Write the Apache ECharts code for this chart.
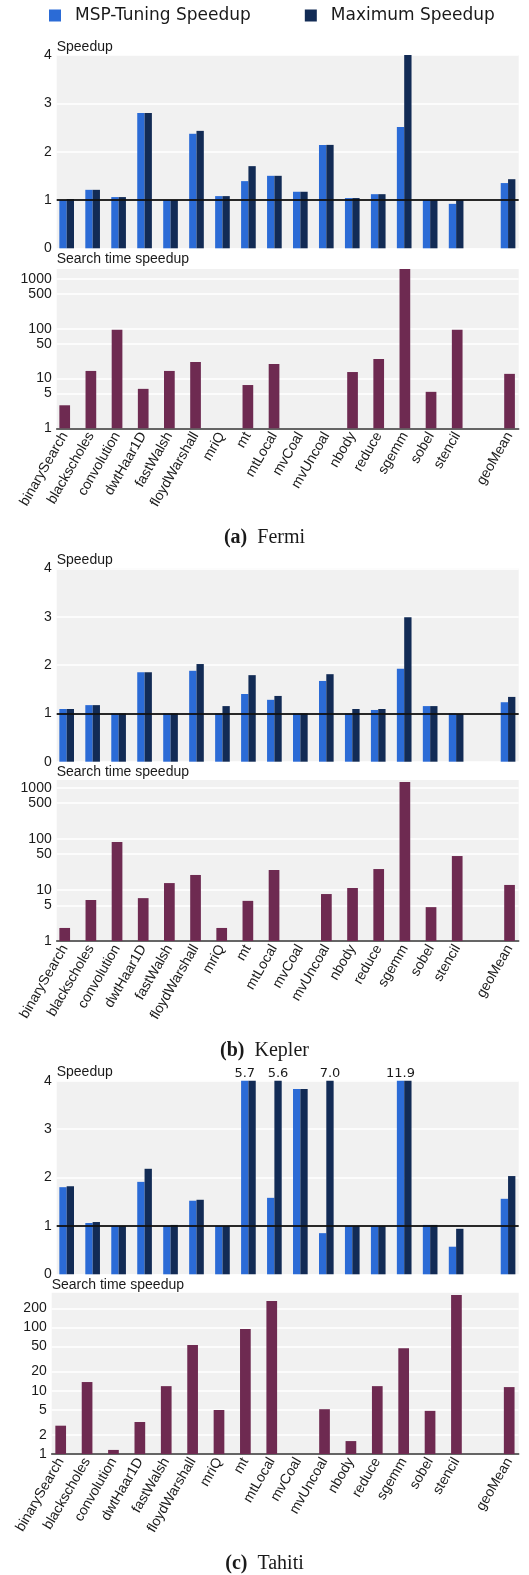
<!DOCTYPE html>
<html><head><meta charset="utf-8">
<script src="https://cdn.jsdelivr.net/npm/echarts@6/dist/echarts.min.js"></script>
<style>html,body{margin:0;padding:0;background:#fff}#c{width:529px;height:1575px}</style>
</head><body><div id="c"></div>
<script>
// ---------- data ----------
const categories = ['binarySearch','blackscholes','convolution','dwtHaar1D','fastWalsh','floydWarshall','mriQ','mt','mtLocal','mvCoal','mvUncoal','nbody','reduce','sgemm','sobel','stencil','','geoMean'];

const fermiMsp    = [1.00,1.21,1.06,2.80,1.00,2.37,1.08,1.39,1.50,1.17,2.14,1.04,1.12,2.51,1.00,0.92,null,1.35];
const fermiMax    = [1.02,1.21,1.06,2.80,1.00,2.43,1.08,1.70,1.50,1.17,2.14,1.04,1.12,4.00,1.00,1.00,null,1.43];
const fermiSearch = [2.9,14.2,95,6.2,14.2,21.5,1,7.4,19.6,1,1,13.5,24.7,1600,5.4,95,null,12.4];

const keplerMsp    = [1.09,1.17,1.00,1.85,1.00,1.88,1.00,1.40,1.28,1.00,1.67,1.00,1.07,1.92,1.15,1.00,null,1.23];
const keplerMax    = [1.09,1.17,1.00,1.85,1.00,2.02,1.15,1.79,1.36,1.00,1.81,1.09,1.09,2.99,1.15,0.99,null,1.34];
const keplerSearch = [1.8,6.35,86.5,6.9,13.6,19.6,1.8,6.1,24.5,1,8.3,10.9,25.6,1290,4.6,46,null,12.5];

const tahitiMsp    = [1.80,1.06,1.00,1.91,1.00,1.52,1.00,5.7,1.58,3.83,0.85,1.00,1.00,11.9,1.02,0.57,null,1.56];
const tahitiMax    = [1.82,1.08,1.00,2.18,1.02,1.54,1.00,5.7,5.6,3.83,7.0,1.00,1.00,11.9,1.02,0.94,null,2.03];
const tahitiSearch = [2.8,13.7,1.16,3.2,11.8,52.6,4.95,94,260,1,5.1,1.6,11.8,47,4.8,324,null,11.4];

const speedupMax = 4;
const searchTicksGpu    = [1,5,10,50,100,500,1000];
const searchTicksTahiti = [1,2,5,10,20,50,100,200];
const legendNames = ['MSP-Tuning Speedup','Maximum Speedup'];

// ---------- layout / style ----------
const SANS = 'Liberation Sans', TXT = '#1a1a1a';
const BLUE = '#2b6bd6', NAVY = '#122b55', PLUM = '#6e2a51', BG = '#f1f1f1';

const panels = [
  {tag:'(a)', name:'Fermi', msp:fermiMsp, max:fermiMax, search:fermiSearch, ticks:searchTicksGpu, logMax:1585,
   spTop:55, spH:193.3, spTitle:40, seTop:269, seH:159.3, seTitle:252, seLeft:56.7, seMin:-0.306, seMaxX:17.35, cap:528},
  {tag:'(b)', name:'Kepler', msp:keplerMsp, max:keplerMax, search:keplerSearch, ticks:searchTicksGpu, logMax:1415,
   spTop:568.3, spH:193.4, spTitle:553, seTop:780, seH:161, seTitle:765, seLeft:56.7, seMin:-0.306, seMaxX:17.35, cap:1041},
  {tag:'(c)', name:'Tahiti', msp:tahitiMsp, max:tahitiMax, search:tahitiSearch, ticks:searchTicksTahiti, logMax:353,
   spTop:1080.7, spH:193.6, spTitle:1065, seTop:1292.7, seH:161.3, seTitle:1278.5, seLeft:51.7, seMin:-0.341, seMaxX:17.36, cap:1554}
];

const idx = categories.map((c, i) => i).filter(i => categories[i] !== '');
const grids = [], xAxes = [], yAxes = [], series = [], titles = [];
const titleStyle = {fontFamily: SANS, fontSize: 14, fontWeight: 'normal', color: TXT};
const valLabel = {position: 'top', distance: 1, fontFamily: 'DejaVu Sans', fontSize: 13, color: TXT,
                  formatter: d => d.value[1].toFixed(1)};

panels.forEach((p, k) => {
  const gs = 2 * k, ge = 2 * k + 1;
  grids.push({left: 56.7, width: 462, top: p.spTop, height: p.spH, show: true, backgroundColor: BG, borderWidth: 0, outerBoundsMode: 'none'});
  grids.push({left: p.seLeft, width: 518.7 - p.seLeft, top: p.seTop, height: p.seH, show: true, backgroundColor: BG, borderWidth: 0, outerBoundsMode: 'none'});

  xAxes.push({type: 'value', gridIndex: gs, min: -0.384, max: 17.41,
    axisLine: {show: false}, axisTick: {show: false}, axisLabel: {show: false}, splitLine: {show: false}});
  xAxes.push({type: 'value', gridIndex: ge, min: p.seMin, max: p.seMaxX,
    axisLine: {show: true, onZero: false, lineStyle: {color: '#333', width: 1.5}},
    axisTick: {show: false, customValues: idx}, splitLine: {show: false},
    axisLabel: {show: true, customValues: idx, rotate: 60, margin: 5, fontFamily: SANS, fontSize: 14, color: TXT,
                formatter: v => categories[Math.round(v)]}});

  yAxes.push({type: 'value', gridIndex: gs, min: 0, max: speedupMax, interval: 1,
    axisLine: {show: false}, axisTick: {show: false},
    splitLine: {show: true, lineStyle: {color: '#ffffff', width: 1.5}},
    axisLabel: {margin: 5, fontFamily: SANS, fontSize: 14, color: TXT}});
  yAxes.push({type: 'log', logBase: 10, gridIndex: ge, min: 1, max: p.logMax,
    axisLine: {show: false}, axisTick: {show: false, customValues: p.ticks},
    splitLine: {show: true, lineStyle: {color: '#ffffff', width: 1.5}},
    axisLabel: {customValues: p.ticks, margin: 5, fontFamily: SANS, fontSize: 14, color: TXT, formatter: v => String(v)}});

  series.push({type: 'bar', name: legendNames[0], xAxisIndex: gs, yAxisIndex: gs, barWidth: 7.33, barGap: '0%',
    itemStyle: {color: BLUE}, label: valLabel, clip: true,
    data: idx.map(i => ({value: [i, p.msp[i]], label: {show: p.msp[i] > speedupMax}}))});
  series.push({type: 'bar', name: legendNames[1], xAxisIndex: gs, yAxisIndex: gs, barWidth: 7.33, barGap: '0%',
    itemStyle: {color: NAVY}, label: valLabel, clip: true,
    data: idx.map(i => ({value: [i, p.max[i]], label: {show: p.max[i] > speedupMax && !(p.msp[i] > speedupMax)}})),
    markLine: {silent: true, symbol: 'none', label: {show: false}, z: 10,
      lineStyle: {color: '#111', width: 2, type: 'solid', opacity: 0.9}, data: [{yAxis: 1}]}});
  series.push({type: 'bar', name: 'Search time speedup', xAxisIndex: ge, yAxisIndex: ge, barWidth: 10.7,
    itemStyle: {color: PLUM}, clip: true,
    data: idx.map(i => [i, p.search[i]])});

  titles.push({text: 'Speedup', left: 56.7, top: p.spTitle, padding: 0, textStyle: titleStyle});
  titles.push({text: 'Search time speedup', left: p.seLeft, top: p.seTitle, padding: 0, textStyle: titleStyle});
  titles.push({text: '{b|' + p.tag + '}  {n|' + p.name + '}', left: 'center', top: p.cap, padding: 0,
    textStyle: {fontWeight: 'normal', rich: {
      b: {fontFamily: 'Liberation Serif', fontWeight: 'bold', fontSize: 20, color: TXT},
      n: {fontFamily: 'Liberation Serif', fontWeight: 'normal', fontSize: 20, color: TXT}}}});
});

const chart = echarts.init(document.getElementById('c'), null, {renderer: 'canvas'});
chart.setOption({
  animation: false,
  backgroundColor: '#ffffff',
  title: titles,
  legend: {left: 49, top: 7, padding: 0, itemWidth: 12, itemHeight: 12, itemGap: 54, icon: 'rect',
    data: legendNames, textStyle: {fontFamily: 'DejaVu Sans', fontSize: 17, color: TXT, padding: [0, 0, 0, 9]}},
  grid: grids, xAxis: xAxes, yAxis: yAxes, series: series
});
</script></body></html>
